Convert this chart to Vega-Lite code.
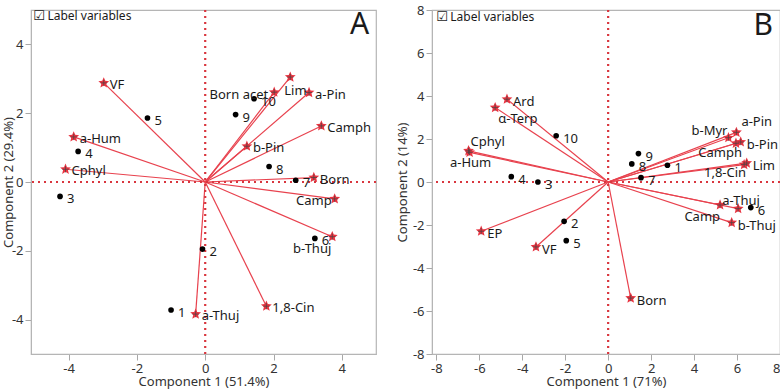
{
  "$schema": "https://vega.github.io/schema/vega-lite/v6.json",
  "padding": {"left": 1, "top": 3, "right": 0, "bottom": 0},
  "spacing": 17,
  "config": {
    "font": "Noto Sans",
    "view": {"stroke": "#b5b5b5", "strokeWidth": 1.2},
    "axis": {"grid": false, "domainColor": "#b5b5b5", "tickColor": "#a8a8a8", "labelColor": "#333", "titleColor": "#333", "labelFontSize": 13, "titleFontSize": 13, "titleFontWeight": "normal", "labelFont": "Noto Sans", "titleFont": "Noto Sans"},
    "text": {"font": "Noto Sans", "fontSize": 13, "color": "#1a1a1a"}
  },
  "datasets": {
    "scoresA": [
      {"id": "1", "x": -1.0, "y": -3.72}, {"id": "2", "x": -0.08, "y": -1.95}, {"id": "3", "x": -4.25, "y": -0.42},
      {"id": "4", "x": -3.72, "y": 0.89}, {"id": "5", "x": -1.69, "y": 1.86}, {"id": "6", "x": 3.21, "y": -1.64},
      {"id": "7", "x": 2.65, "y": 0.05}, {"id": "8", "x": 1.87, "y": 0.45}, {"id": "9", "x": 0.89, "y": 1.96},
      {"id": "10", "x": 1.43, "y": 2.42}
    ],
    "loadA": [
      {"name": "VF", "x": -2.97, "y": 2.88}, {"name": "a-Hum", "x": -3.85, "y": 1.31}, {"name": "Cphyl", "x": -4.09, "y": 0.37},
      {"name": "Lim", "x": 2.49, "y": 3.05}, {"name": "Born acet", "x": 2.02, "y": 2.61}, {"name": "a-Pin", "x": 3.04, "y": 2.6},
      {"name": "Camph", "x": 3.4, "y": 1.63}, {"name": "b-Pin", "x": 1.22, "y": 1.04}, {"name": "Born", "x": 3.18, "y": 0.13},
      {"name": "Camp", "x": 3.79, "y": -0.49}, {"name": "b-Thuj", "x": 3.72, "y": -1.59}, {"name": "1,8-Cin", "x": 1.79, "y": -3.61},
      {"name": "a-Thuj", "x": -0.28, "y": -3.84}
    ],
    "scoresB": [
      {"id": "1", "x": 2.76, "y": 0.78}, {"id": "2", "x": -2.05, "y": -1.83}, {"id": "3", "x": -3.27, "y": 0.0},
      {"id": "4", "x": -4.51, "y": 0.25}, {"id": "5", "x": -1.95, "y": -2.73}, {"id": "6", "x": 6.64, "y": -1.19},
      {"id": "7", "x": 1.53, "y": 0.2}, {"id": "8", "x": 1.1, "y": 0.84}, {"id": "9", "x": 1.41, "y": 1.32},
      {"id": "10", "x": -2.42, "y": 2.15}
    ],
    "loadB": [
      {"name": "Ard", "x": -4.71, "y": 3.85}, {"name": "α-Terp", "x": -5.26, "y": 3.46}, {"name": "Cphyl", "x": -6.5, "y": 1.45},
      {"name": "a-Hum", "x": -6.45, "y": 1.38}, {"name": "b-Myr", "x": 5.6, "y": 2.06}, {"name": "a-Pin", "x": 5.97, "y": 2.31},
      {"name": "b-Pin", "x": 6.17, "y": 1.86}, {"name": "Camph", "x": 5.95, "y": 1.8}, {"name": "Lim", "x": 6.45, "y": 0.88},
      {"name": "1,8-Cin", "x": 6.33, "y": 0.81}, {"name": "a-Thuj", "x": 6.05, "y": -1.24}, {"name": "Camp", "x": 5.21, "y": -1.07},
      {"name": "b-Thuj", "x": 5.75, "y": -1.89}, {"name": "EP", "x": -5.91, "y": -2.29}, {"name": "VF", "x": -3.36, "y": -3.02},
      {"name": "Born", "x": 1.05, "y": -5.4}
    ]
  },
  "hconcat": [
    {
      "width": 345,
      "height": 344,
      "layer": [
        {
          "data": {"name": "loadA"},
          "transform": [{"calculate": "0", "as": "x0"}, {"calculate": "0", "as": "y0"}],
          "mark": {"type": "rule", "color": "#e8424e", "strokeWidth": 1.2},
          "encoding": {
            "x": {"field": "x", "type": "quantitative", "scale": {"domain": [-5.1, 5], "nice": false, "zero": false},
              "axis": {"title": "Component 1 (51.4%)", "values": [-4, -2, 0, 2, 4],
                "labelExpr": "'' + datum.value", "tickSize": 6, "labelPadding": 2, "titlePadding": 0}},
            "y": {"field": "y", "type": "quantitative", "scale": {"domain": [-5, 5], "nice": false, "zero": false},
              "axis": {"title": "Component 2 (29.4%)", "values": [-4, -2, 0, 2, 4],
                "labelExpr": "'' + datum.value", "tickSize": 6, "labelPadding": 2, "titlePadding": -4}},
            "x2": {"field": "x0"},
            "y2": {"field": "y0"}
          }
        },
        {
          "data": {"values": [{"v": 0}]},
          "mark": {"type": "rule", "color": "#d9363e", "strokeDash": [2, 4], "strokeWidth": 2.2},
          "encoding": {"y": {"field": "v", "type": "quantitative"}}
        },
        {
          "data": {"values": [{"v": 0}]},
          "mark": {"type": "rule", "color": "#d9363e", "strokeDash": [2, 4], "strokeWidth": 2.2},
          "encoding": {"x": {"field": "v", "type": "quantitative"}}
        },
        {
          "data": {"name": "loadA"},
          "mark": {"type": "point", "shape": "M0,-1L0.265,-0.364L0.951,-0.309L0.428,0.139L0.588,0.809L0,0.45L-0.588,0.809L-0.428,0.139L-0.951,-0.309L-0.265,-0.364Z", "filled": true, "color": "#ea3340", "size": 130, "opacity": 1},
          "encoding": {"x": {"field": "x", "type": "quantitative"}, "y": {"field": "y", "type": "quantitative"}}
        },
        {
          "data": {"name": "loadA"},
          "mark": {"type": "point", "shape": "M-1,0L1,0M0,-1L0,1", "filled": false, "stroke": "#444", "strokeWidth": 0.7, "size": 40, "opacity": 1},
          "encoding": {"x": {"field": "x", "type": "quantitative"}, "y": {"field": "y", "type": "quantitative"}}
        },
        {
          "data": {"name": "scoresA"},
          "mark": {"type": "point", "shape": "circle", "filled": true, "color": "#000", "size": 32, "opacity": 1},
          "encoding": {"x": {"field": "x", "type": "quantitative"}, "y": {"field": "y", "type": "quantitative"}}
        },
        {
          "data": {"name": "scoresA"},
          "mark": {"type": "text", "align": "left", "baseline": "middle", "dx": 7, "dy": 3},
          "encoding": {"x": {"field": "x", "type": "quantitative"}, "y": {"field": "y", "type": "quantitative"}, "text": {"field": "id"}}
        },
        {
          "data": {"name": "loadA"},
          "transform": [{"filter": "indexof(['Lim','Born acet','Camp','b-Thuj'], datum.name) < 0"}],
          "mark": {"type": "text", "align": "left", "baseline": "middle", "dx": 6, "dy": 2},
          "encoding": {"x": {"field": "x", "type": "quantitative"}, "y": {"field": "y", "type": "quantitative"}, "text": {"field": "name"}}
        },
        {
          "data": {"name": "loadA"},
          "transform": [{"filter": "datum.name === 'Lim'"}],
          "mark": {"type": "text", "align": "left", "baseline": "middle", "dx": -6, "dy": 14},
          "encoding": {"x": {"field": "x", "type": "quantitative"}, "y": {"field": "y", "type": "quantitative"}, "text": {"field": "name"}}
        },
        {
          "data": {"name": "loadA"},
          "transform": [{"filter": "datum.name === 'Born acet'"}],
          "mark": {"type": "text", "align": "right", "baseline": "middle", "dx": -6, "dy": 3},
          "encoding": {"x": {"field": "x", "type": "quantitative"}, "y": {"field": "y", "type": "quantitative"}, "text": {"field": "name"}}
        },
        {
          "data": {"name": "loadA"},
          "transform": [{"filter": "datum.name === 'Camp'"}],
          "mark": {"type": "text", "align": "right", "baseline": "middle", "dx": -3, "dy": 2},
          "encoding": {"x": {"field": "x", "type": "quantitative"}, "y": {"field": "y", "type": "quantitative"}, "text": {"field": "name"}}
        },
        {
          "data": {"name": "loadA"},
          "transform": [{"filter": "datum.name === 'b-Thuj'"}],
          "mark": {"type": "text", "align": "right", "baseline": "middle", "dx": -1, "dy": 12},
          "encoding": {"x": {"field": "x", "type": "quantitative"}, "y": {"field": "y", "type": "quantitative"}, "text": {"field": "name"}}
        },
        {
          "data": {"values": [{"t": "☑", "x": -4.86, "y": 4.83}]},
          "mark": {"type": "text", "align": "center", "baseline": "middle", "font": "DejaVu Sans", "fontSize": 13},
          "encoding": {"x": {"field": "x", "type": "quantitative"}, "y": {"field": "y", "type": "quantitative"}, "text": {"field": "t"}}
        },
        {
          "data": {"values": [{"t": "Label variables", "x": -4.62, "y": 4.83}]},
          "mark": {"type": "text", "align": "left", "baseline": "middle", "fontSize": 12},
          "encoding": {"x": {"field": "x", "type": "quantitative"}, "y": {"field": "y", "type": "quantitative"}, "text": {"field": "t"}}
        },
        {
          "data": {"values": [{"t": "A", "x": 4.8, "y": 4.56}]},
          "mark": {"type": "text", "align": "right", "baseline": "middle", "fontSize": 30},
          "encoding": {"x": {"field": "x", "type": "quantitative"}, "y": {"field": "y", "type": "quantitative"}, "text": {"field": "t"}}
        }
      ]
    },
    {
      "width": 348,
      "height": 344,
      "layer": [
        {
          "data": {"name": "loadB"},
          "transform": [{"calculate": "0", "as": "x0"}, {"calculate": "0", "as": "y0"}],
          "mark": {"type": "rule", "color": "#e8424e", "strokeWidth": 1.2},
          "encoding": {
            "x": {"field": "x", "type": "quantitative", "scale": {"domain": [-8.2, 8], "nice": false, "zero": false},
              "axis": {"title": "Component 1 (71%)", "values": [-8, -6, -4, -2, 0, 2, 4, 6, 8],
                "labelExpr": "'' + datum.value", "tickSize": 6, "labelPadding": 2, "titlePadding": 0}},
            "y": {"field": "y", "type": "quantitative", "scale": {"domain": [-8, 8], "nice": false, "zero": false},
              "axis": {"title": "Component 2 (14%)", "values": [-8, -6, -4, -2, 0, 2, 4, 6, 8],
                "labelExpr": "'' + datum.value", "tickSize": 6, "labelPadding": 2, "titlePadding": 3}},
            "x2": {"field": "x0"},
            "y2": {"field": "y0"}
          }
        },
        {
          "data": {"values": [{"v": 0}]},
          "mark": {"type": "rule", "color": "#d9363e", "strokeDash": [2, 4], "strokeWidth": 2.2},
          "encoding": {"y": {"field": "v", "type": "quantitative"}}
        },
        {
          "data": {"values": [{"v": 0}]},
          "mark": {"type": "rule", "color": "#d9363e", "strokeDash": [2, 4], "strokeWidth": 2.2},
          "encoding": {"x": {"field": "v", "type": "quantitative"}}
        },
        {
          "data": {"name": "loadB"},
          "mark": {"type": "point", "shape": "M0,-1L0.265,-0.364L0.951,-0.309L0.428,0.139L0.588,0.809L0,0.45L-0.588,0.809L-0.428,0.139L-0.951,-0.309L-0.265,-0.364Z", "filled": true, "color": "#ea3340", "size": 130, "opacity": 1},
          "encoding": {"x": {"field": "x", "type": "quantitative"}, "y": {"field": "y", "type": "quantitative"}}
        },
        {
          "data": {"name": "loadB"},
          "mark": {"type": "point", "shape": "M-1,0L1,0M0,-1L0,1", "filled": false, "stroke": "#444", "strokeWidth": 0.7, "size": 40, "opacity": 1},
          "encoding": {"x": {"field": "x", "type": "quantitative"}, "y": {"field": "y", "type": "quantitative"}}
        },
        {
          "data": {"name": "scoresB"},
          "mark": {"type": "point", "shape": "circle", "filled": true, "color": "#000", "size": 32, "opacity": 1},
          "encoding": {"x": {"field": "x", "type": "quantitative"}, "y": {"field": "y", "type": "quantitative"}}
        },
        {
          "data": {"name": "scoresB"},
          "mark": {"type": "text", "align": "left", "baseline": "middle", "dx": 7, "dy": 3},
          "encoding": {"x": {"field": "x", "type": "quantitative"}, "y": {"field": "y", "type": "quantitative"}, "text": {"field": "id"}}
        },
        {
          "data": {"name": "loadB"},
          "transform": [{"filter": "indexof(['α-Terp','Cphyl','a-Hum','b-Myr','a-Pin','Camph','1,8-Cin','a-Thuj','Camp'], datum.name) < 0"}],
          "mark": {"type": "text", "align": "left", "baseline": "middle", "dx": 6, "dy": 3},
          "encoding": {"x": {"field": "x", "type": "quantitative"}, "y": {"field": "y", "type": "quantitative"}, "text": {"field": "name"}}
        },
        {
          "data": {"name": "loadB"},
          "transform": [{"filter": "datum.name === 'α-Terp'"}],
          "mark": {"type": "text", "align": "left", "baseline": "middle", "dx": 3, "dy": 11},
          "encoding": {"x": {"field": "x", "type": "quantitative"}, "y": {"field": "y", "type": "quantitative"}, "text": {"field": "name"}}
        },
        {
          "data": {"name": "loadB"},
          "transform": [{"filter": "datum.name === 'Cphyl'"}],
          "mark": {"type": "text", "align": "left", "baseline": "middle", "dx": 2, "dy": -9},
          "encoding": {"x": {"field": "x", "type": "quantitative"}, "y": {"field": "y", "type": "quantitative"}, "text": {"field": "name"}}
        },
        {
          "data": {"name": "loadB"},
          "transform": [{"filter": "datum.name === 'a-Hum'"}],
          "mark": {"type": "text", "align": "center", "baseline": "middle", "dx": 1, "dy": 11},
          "encoding": {"x": {"field": "x", "type": "quantitative"}, "y": {"field": "y", "type": "quantitative"}, "text": {"field": "name"}}
        },
        {
          "data": {"name": "loadB"},
          "transform": [{"filter": "datum.name === 'b-Myr'"}],
          "mark": {"type": "text", "align": "right", "baseline": "middle", "dx": -1, "dy": -7},
          "encoding": {"x": {"field": "x", "type": "quantitative"}, "y": {"field": "y", "type": "quantitative"}, "text": {"field": "name"}}
        },
        {
          "data": {"name": "loadB"},
          "transform": [{"filter": "datum.name === 'a-Pin'"}],
          "mark": {"type": "text", "align": "left", "baseline": "middle", "dx": 5, "dy": -10},
          "encoding": {"x": {"field": "x", "type": "quantitative"}, "y": {"field": "y", "type": "quantitative"}, "text": {"field": "name"}}
        },
        {
          "data": {"name": "loadB"},
          "transform": [{"filter": "datum.name === 'Camph'"}],
          "mark": {"type": "text", "align": "right", "baseline": "middle", "dx": 6, "dy": 10},
          "encoding": {"x": {"field": "x", "type": "quantitative"}, "y": {"field": "y", "type": "quantitative"}, "text": {"field": "name"}}
        },
        {
          "data": {"name": "loadB"},
          "transform": [{"filter": "datum.name === '1,8-Cin'"}],
          "mark": {"type": "text", "align": "right", "baseline": "middle", "dx": 2, "dy": 8},
          "encoding": {"x": {"field": "x", "type": "quantitative"}, "y": {"field": "y", "type": "quantitative"}, "text": {"field": "name"}}
        },
        {
          "data": {"name": "loadB"},
          "transform": [{"filter": "datum.name === 'a-Thuj'"}],
          "mark": {"type": "text", "align": "center", "baseline": "middle", "dx": 3, "dy": -8},
          "encoding": {"x": {"field": "x", "type": "quantitative"}, "y": {"field": "y", "type": "quantitative"}, "text": {"field": "name"}}
        },
        {
          "data": {"name": "loadB"},
          "transform": [{"filter": "datum.name === 'Camp'"}],
          "mark": {"type": "text", "align": "right", "baseline": "middle", "dx": 0, "dy": 12},
          "encoding": {"x": {"field": "x", "type": "quantitative"}, "y": {"field": "y", "type": "quantitative"}, "text": {"field": "name"}}
        },
        {
          "data": {"values": [{"t": "☑", "x": -7.73, "y": 7.67}]},
          "mark": {"type": "text", "align": "center", "baseline": "middle", "font": "DejaVu Sans", "fontSize": 13},
          "encoding": {"x": {"field": "x", "type": "quantitative"}, "y": {"field": "y", "type": "quantitative"}, "text": {"field": "t"}}
        },
        {
          "data": {"values": [{"t": "Label variables", "x": -7.35, "y": 7.67}]},
          "mark": {"type": "text", "align": "left", "baseline": "middle", "fontSize": 12},
          "encoding": {"x": {"field": "x", "type": "quantitative"}, "y": {"field": "y", "type": "quantitative"}, "text": {"field": "t"}}
        },
        {
          "data": {"values": [{"t": "B", "x": 7.67, "y": 7.26}]},
          "mark": {"type": "text", "align": "right", "baseline": "middle", "fontSize": 30},
          "encoding": {"x": {"field": "x", "type": "quantitative"}, "y": {"field": "y", "type": "quantitative"}, "text": {"field": "t"}}
        }
      ]
    }
  ]
}
